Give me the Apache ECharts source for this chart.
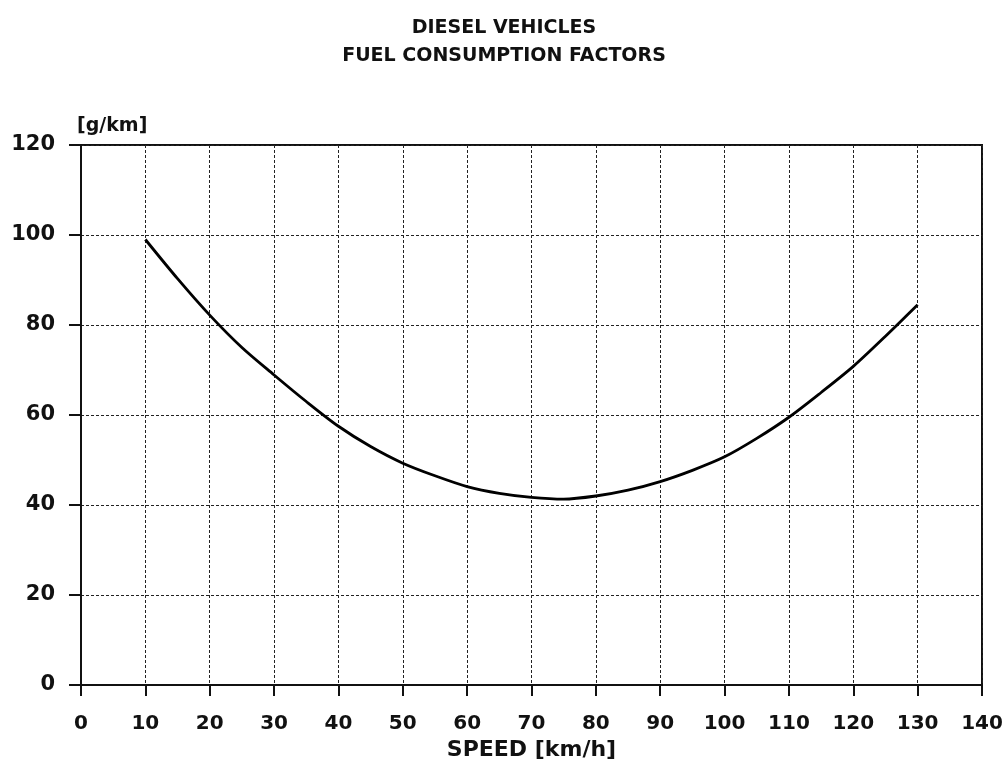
<!DOCTYPE html>
<html>
<head>
<meta charset="utf-8">
<script src="https://cdn.jsdelivr.net/npm/echarts@6/dist/echarts.min.js"></script>
<style>
  html, body { margin: 0; padding: 0; background: #fff; }
  #chart { width: 1008px; height: 767px; }
</style>
</head>
<body>
<div id="chart"></div>
<script>
// Fuel consumption of diesel vehicles against average speed
const speeds = [10, 15, 20, 25, 30, 35, 40, 45, 50, 55, 60, 65, 70, 75, 80, 85, 90, 95, 100, 105, 110, 115, 120, 125, 130];
const consumption = [99.0, 90.3, 82.2, 75.0, 68.9, 63.0, 57.5, 53.0, 49.3, 46.5, 44.1, 42.6, 41.7, 41.3, 42.0, 43.3, 45.2, 47.7, 50.7, 54.8, 59.5, 65.0, 70.8, 77.5, 84.5];
const xTicks = { min: 0, max: 140, interval: 10 };
const yTicks = { min: 0, max: 120, interval: 20 };
const titleLines = ['DIESEL VEHICLES', 'FUEL CONSUMPTION FACTORS'];
const xName = 'SPEED [km/h]';
const yName = '[g/km]';

const FONT = '"DejaVu Sans", Verdana, sans-serif';
const chart = echarts.init(document.getElementById('chart'), null, { renderer: 'canvas' });

const gridLine = { show: true, lineStyle: { color: '#222', width: 1, type: [3, 2] } };

chart.setOption({
  animation: false,
  backgroundColor: '#fff',
  title: {
    text: titleLines.join('\n'),
    left: 'center',
    top: 9,
    textStyle: { fontFamily: FONT, fontWeight: 'bold', fontSize: 19, lineHeight: 28, color: '#111' }
  },
  grid: {
    left: 81, right: 26, top: 145, bottom: 82,
    show: true, borderColor: '#111', borderWidth: 2, backgroundColor: 'transparent'
  },
  xAxis: {
    type: 'value',
    min: xTicks.min, max: xTicks.max, interval: xTicks.interval,
    name: xName,
    nameLocation: 'middle',
    nameGap: 52,
    nameTextStyle: { fontFamily: FONT, fontWeight: 'bold', fontSize: 22, color: '#111' },
    axisLine: { show: true, onZero: false, lineStyle: { color: '#111', width: 2 } },
    axisTick: { show: true, length: 11, lineStyle: { color: '#111', width: 2 } },
    axisLabel: { margin: 29, fontFamily: FONT, fontWeight: 'bold', fontSize: 20, color: '#111' },
    splitLine: gridLine
  },
  yAxis: {
    type: 'value',
    min: yTicks.min, max: yTicks.max, interval: yTicks.interval,
    name: yName,
    nameLocation: 'end',
    nameGap: 9,
    nameTextStyle: { fontFamily: FONT, fontWeight: 'bold', fontSize: 19, color: '#111', align: 'left', padding: [0, 0, 0, -4] },
    axisLine: { show: true, onZero: false, lineStyle: { color: '#111', width: 2 } },
    axisTick: { show: true, length: 12, lineStyle: { color: '#111', width: 2 } },
    axisLabel: { margin: 26, fontFamily: FONT, fontWeight: 'bold', fontSize: 21, color: '#111' },
    splitLine: gridLine
  },
  series: [{
    type: 'line',
    data: speeds.map((s, i) => [s, consumption[i]]),
    smooth: 0.3,
    symbol: 'none',
    lineStyle: { color: '#000', width: 2.8 }
  }]
});
</script>
</body>
</html>
